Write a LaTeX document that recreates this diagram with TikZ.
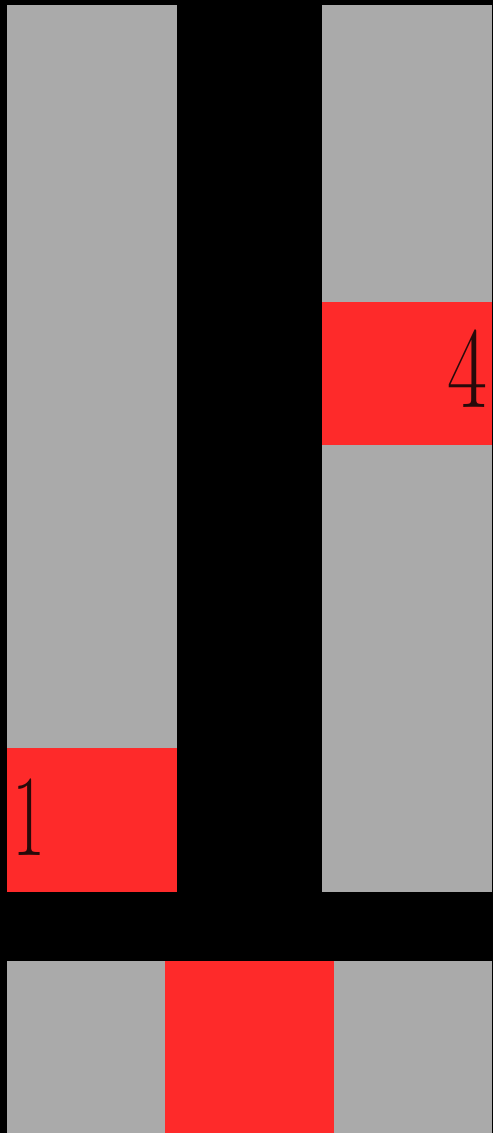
\documentclass[tikz,border=0pt]{standalone}
\definecolor{cellgray}{RGB}{170,170,170}
\definecolor{cellred}{RGB}{254,42,42}
\definecolor{digit}{RGB}{40,10,10}
\begin{document}
\begin{tikzpicture}[x=1pt,y=-1pt,
  gray cell/.style={fill=cellgray},
  red cell/.style={fill=cellred},
  digitlabel/.style={inner sep=0pt,text=digit,font=\fontsize{116}{116}\selectfont}]
\useasboundingbox (0,0) rectangle (493,1133);
\fill[black] (0,0) rectangle (493,1133);
% left column
\fill[gray cell] (7,5) rectangle (177,748);
\fill[red cell] (7,748) rectangle (177,892);
% right column
\fill[gray cell] (322,5) rectangle (492,302);
\fill[red cell] (322,302) rectangle (492,445);
\fill[gray cell] (322,445) rectangle (492,892);
% bottom row
\fill[gray cell] (7,961) rectangle (165,1133);
\fill[red cell] (165,961) rectangle (334,1133);
\fill[gray cell] (334,961) rectangle (492,1133);
% labels
\node[digitlabel,anchor=base east] (four) at (488,407) {\scalebox{0.75}[1]{4}};
\node[digitlabel,anchor=base west] (one) at (12,855) {\scalebox{0.62}[1]{1}};
\end{tikzpicture}
\end{document}
